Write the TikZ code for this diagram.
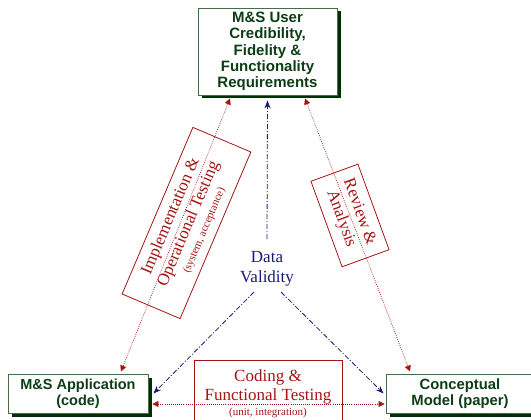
\documentclass[tikz,border=0pt]{standalone}
\usepackage{fontspec}
\setmainfont{Liberation Serif}
\newfontfamily\hvfont{Liberation Sans}
\usetikzlibrary{arrows.meta,shadows}
\definecolor{msred}{RGB}{165,20,20}
\definecolor{navy}{RGB}{25,25,120}
\definecolor{textgreen}{RGB}{12,62,22}
\definecolor{boxgreen}{RGB}{70,110,70}
\definecolor{shadowgreen}{RGB}{0,48,0}
\begin{document}
\begin{tikzpicture}[x=1pt,y=-1pt,
  reqbox/.style={draw=boxgreen, line width=0.9pt, fill=white, text=textgreen, align=center, inner sep=0pt,
    font=\hvfont\bfseries\fontsize{15}{16.3}\selectfont,
    drop shadow={shadow xshift=3.5pt, shadow yshift=-3.5pt, fill=shadowgreen, opacity=1}},
  lbl/.style={draw=msred, line width=0.8pt, text=msred, align=center, inner sep=0pt,
    font=\fontsize{17}{18.5}\selectfont},
  redlink/.style={msred, line width=0.7pt, dash pattern=on 0.8pt off 1.3pt,
    {Triangle[width=6pt,length=6pt]}-{Triangle[width=6pt,length=6pt]}},
  bluelink/.style={navy, line width=0.8pt, dash pattern=on 5pt off 2pt on 1pt off 2pt,
    -{Stealth[length=8pt,width=6pt]}}
]
\useasboundingbox (0,0) rectangle (531,420);

\node[reqbox, minimum width=139pt, minimum height=87pt] (req) at (267.5,51.5)
  {M\&S User\\Credibility,\\Fidelity \&\\Functionality\\Requirements};
\node[reqbox, minimum width=140pt, minimum height=39pt, font=\hvfont\bfseries\fontsize{14.5}{16}\selectfont] (app) at (78,393.5)
  {M\&S Application\\(code)};
\node[reqbox, minimum width=148pt, minimum height=39pt, font=\hvfont\bfseries\fontsize{14.8}{16}\selectfont] (con) at (460,393.5)
  {Conceptual\\Model (paper)};

\node[text=navy, align=center, font=\fontsize{17}{20}\selectfont] (dv) at (267,269) {Data\\Validity};

\node[lbl, minimum width=148pt, minimum height=68pt] (cod) at (268,394)
  {Coding \&\\Functional Testing\\[-3pt]{\fontsize{11}{12}\selectfont (unit, integration)}};
\node[lbl, rotate=67, minimum width=181pt, minimum height=63pt, font=\fontsize{17}{19.5}\selectfont] (imp) at (186.5,223)
  {Implementation \&\\Operational Testing\\[-4pt]{\fontsize{11}{12}\selectfont (system, acceptance)}};
\node[lbl, rotate=-70, minimum width=91pt, minimum height=50pt, font=\fontsize{17}{19.5}\selectfont] (rev) at (350,215.5)
  {Review \&\\Analysis};

\draw[redlink] ([shift={(-37.5,3)}]req.south) -- ([shift={(43,-2)}]app.north);
\draw[redlink] ([shift={(37.5,3)}]req.south) -- ([shift={(-50,-2)}]con.north);
\draw[redlink] ([shift={(4,10.5)}]app.east) -- ([shift={(-1,10.5)}]con.west);

\draw[bluelink] ([shift={(0,-30)}]dv.center) -- ([shift={(0,5)}]req.south);
\draw[bluelink] ([shift={(-13,23)}]dv.center) -- ([shift={(5,0)}]app.east);
\draw[bluelink] ([shift={(14,23)}]dv.center) -- ([shift={(-2,0)}]con.west);
\end{tikzpicture}
\end{document}
